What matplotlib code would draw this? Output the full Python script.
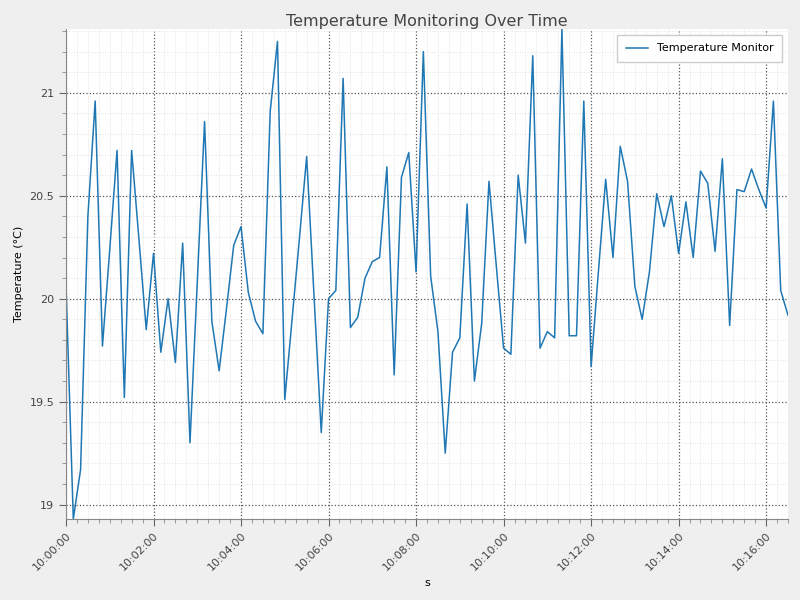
import matplotlib
matplotlib.use('Agg')
import matplotlib.pyplot as plt
import matplotlib.dates as mdates
import pandas as pd

# Temperature readings, one every 10 seconds starting 10:00:00
start_time = '2024-01-01 10:00:00'
sample_period = '10s'
temperature = [
    20.07, 18.93, 19.17, 20.40, 20.96, 19.77, 20.24, 20.72, 19.52, 20.72,
    20.29, 19.85, 20.22, 19.74, 20.00, 19.69, 20.27, 19.30, 20.08, 20.86,
    19.89, 19.65, 19.95, 20.26, 20.35, 20.03, 19.89, 19.83, 20.91, 21.25,
    19.51, 19.90, 20.29, 20.69, 20.02, 19.35, 20.00, 20.04, 21.07, 19.86,
    19.91, 20.10, 20.18, 20.20, 20.64, 19.63, 20.59, 20.71, 20.13, 21.20,
    20.11, 19.84, 19.25, 19.74, 19.81, 20.46, 19.60, 19.88, 20.57, 20.16,
    19.76, 19.73, 20.60, 20.27, 21.18, 19.76, 19.84, 19.81, 21.31, 19.82,
    19.82, 20.96, 19.67, 20.13, 20.58, 20.20, 20.74, 20.57, 20.06, 19.90,
    20.13, 20.51, 20.35, 20.50, 20.22, 20.47, 20.20, 20.62, 20.56, 20.23,
    20.68, 19.87, 20.53, 20.52, 20.63, 20.53, 20.44, 20.96, 20.04, 19.92,
]
times = pd.date_range(start_time, periods=len(temperature), freq=sample_period)

fig = plt.figure(figsize=(8, 6), dpi=100, facecolor='#efefef')
ax = fig.add_axes([0.0825, 0.135, 0.9025, 0.8167])
ax.set_facecolor('white')

ax.plot(times, temperature, color='#1f77b4', linewidth=1.1, label='Temperature Monitor')

ax.margins(x=0, y=0)

# date axis
ax.xaxis.set_major_locator(mdates.MinuteLocator(byminute=range(0, 60, 2)))
ax.xaxis.set_minor_locator(mdates.SecondLocator(bysecond=[0, 15, 30, 45]))
ax.xaxis.set_major_formatter(mdates.DateFormatter('%H:%M:%S'))
ax.yaxis.set_major_locator(plt.MultipleLocator(0.5))
ax.yaxis.set_minor_locator(plt.MultipleLocator(0.1))
ax.yaxis.set_major_formatter(plt.FuncFormatter(lambda v, p: f'{v:g}'))

for lbl in ax.get_xticklabels():
    lbl.set_rotation(45)
    lbl.set_ha('right')
    lbl.set_rotation_mode('anchor')

ax.tick_params(which='major', length=5, color='#666666', labelsize=8, labelcolor='#444444')
ax.tick_params(which='minor', length=3, color='#888888')

# grid
ax.grid(True, which='major', linestyle=':', color='#555555', linewidth=0.9)
ax.grid(True, which='minor', linestyle=':', color='#e2e2e2', linewidth=0.7)
ax.set_axisbelow(True)

for side in ['top', 'right']:
    ax.spines[side].set_visible(False)
for side in ['left', 'bottom']:
    ax.spines[side].set_color('#888888')

ax.set_title('Temperature Monitoring Over Time', fontsize=11.5, color='#444444', pad=2)
ax.set_xlabel('s', fontsize=8)
ax.set_ylabel('Temperature (°C)', fontsize=8)

ax.legend(loc='upper right', fontsize=8, fancybox=False, edgecolor='#cccccc',
          framealpha=1, borderpad=0.8)

fig.savefig('out.png', dpi=100, facecolor=fig.get_facecolor())
